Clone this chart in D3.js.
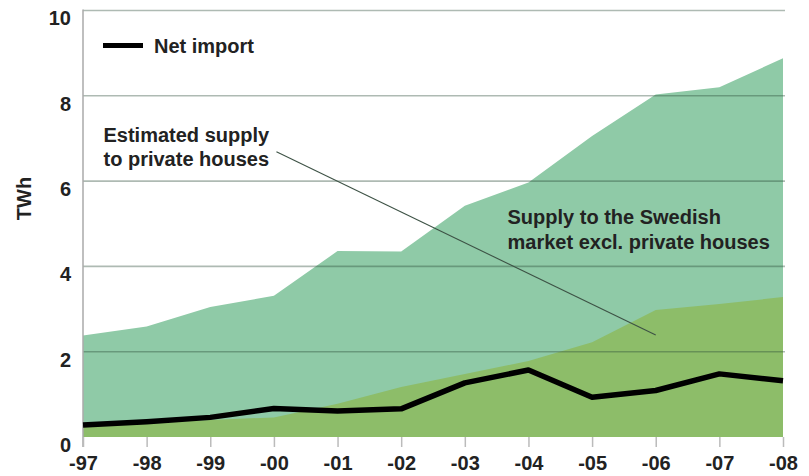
<!DOCTYPE html>
<html>
<head>
<meta charset="utf-8">
<script src="https://cdn.jsdelivr.net/npm/d3@7"></script>
<style>
  html, body { margin: 0; padding: 0; background: #fff; }
  svg { display: block; }
  text { font-family: "Liberation Sans", Arial, Helvetica, sans-serif; font-weight: bold; fill: #222; }
</style>
</head>
<body>
<svg id="chart" width="809" height="476"></svg>
<script>
// Years on the x axis
const years = ["-97", "-98", "-99", "-00", "-01", "-02", "-03", "-04", "-05", "-06", "-07", "-08"];
// Total supply (upper edge of the teal area), TWh
const totalSupply = [2.38, 2.59, 3.05, 3.31, 4.36, 4.35, 5.42, 5.97, 7.06, 8.03, 8.2, 8.88];
// Estimated supply to private houses (green area), TWh
const privateHouses = [0.3, 0.33, 0.4, 0.46, 0.78, 1.17, 1.48, 1.78, 2.22, 2.98, 3.12, 3.28];
// Net import, TWh
const netImport = [0.28, 0.36, 0.46, 0.67, 0.61, 0.66, 1.27, 1.57, 0.93, 1.09, 1.48, 1.32];
// Y axis ticks
const yTicks = [0, 2, 4, 6, 8, 10];

const svg = d3.select("#chart");
const plotLeft = 83, plotRight = 783, plotTop = 10.5, plotBottom = 437;
const fontSize = "20px";

const x = d3.scalePoint().domain(years).range([plotLeft, plotRight]);
const xi = d3.scaleLinear().domain([0, years.length - 1]).range([plotLeft, plotRight]);
const y = d3.scaleLinear().domain([0, 10]).range([plotBottom, plotTop]);

const rows = years.map((yr, i) => ({ yr, total: totalSupply[i], priv: privateHouses[i], net: netImport[i] }));

// Supply to the Swedish market (teal), drawn from zero to the total
svg.append("path")
  .datum(rows)
  .attr("fill", "#8fcaa7")
  .attr("d", d3.area().x(d => x(d.yr)).y0(y(0)).y1(d => y(d.total)));

// Supply to private houses (green)
svg.append("path")
  .datum(rows)
  .attr("fill", "#8dbd69")
  .attr("d", d3.area().x(d => x(d.yr)).y0(y(0)).y1(d => y(d.priv)));

// Horizontal gridlines
svg.append("g")
  .selectAll("line")
  .data(yTicks.filter(t => t > 0))
  .join("line")
  .attr("x1", plotLeft).attr("x2", plotRight + 2)
  .attr("y1", d => y(d)).attr("y2", d => y(d))
  .attr("stroke", "#2a4a38")
  .attr("stroke-opacity", 0.38)
  .attr("stroke-width", 1.6);

// Y axis line
svg.append("line")
  .attr("x1", plotLeft).attr("x2", plotLeft)
  .attr("y1", plotTop - 1).attr("y2", plotBottom + 10)
  .attr("stroke", "#aaa").attr("stroke-width", 1.5);

// Y axis: labels sit just below their gridlines
const yAxis = d3.axisLeft(y).tickValues(yTicks).tickSize(0).tickPadding(12);
const gy = svg.append("g").attr("transform", `translate(${plotLeft},0)`).call(yAxis);
gy.select(".domain").remove();
gy.selectAll("text")
  .attr("dy", "0.72em")
  .style("font-size", fontSize)
  .style("font-weight", "bold")
  .style("font-family", "'Liberation Sans', Arial, sans-serif")
  .attr("fill", "#222");

// X axis
const xAxis = d3.axisBottom(x).tickSize(10).tickPadding(9);
const gx = svg.append("g").attr("transform", `translate(0,${plotBottom})`).call(xAxis);
gx.select(".domain").remove();
gx.selectAll(".tick line").attr("stroke", "#bbb").attr("stroke-width", 1.5);
gx.selectAll("text")
  .style("font-size", fontSize)
  .style("font-weight", "bold")
  .style("font-family", "'Liberation Sans', Arial, sans-serif")
  .attr("fill", "#222");

// Y axis title
svg.append("text")
  .attr("transform", "translate(31,198.5) rotate(-90)")
  .attr("text-anchor", "middle")
  .style("font-size", fontSize)
  .text("TWh");

// Pointer from the private-houses label into the green area
svg.append("line")
  .attr("x1", xi(3.04)).attr("y1", y(6.69))
  .attr("x2", xi(9.0)).attr("y2", y(2.39))
  .attr("stroke", "#3d5245").attr("stroke-width", 1.1);

// Net import line
svg.append("path")
  .datum(rows)
  .attr("fill", "none")
  .attr("stroke", "#000")
  .attr("stroke-width", 5.5)
  .attr("stroke-linejoin", "round")
  .attr("d", d3.line().x(d => x(d.yr)).y(d => y(d.net)));

// Legend
svg.append("line")
  .attr("x1", 103).attr("x2", 143).attr("y1", 45.5).attr("y2", 45.5)
  .attr("stroke", "#000").attr("stroke-width", 5);
svg.append("text").attr("x", 154).attr("y", 53).style("font-size", fontSize).text("Net import");

// Annotations
const note1 = svg.append("text").attr("x", 103.5).attr("y", 142).style("font-size", fontSize);
note1.append("tspan").attr("x", 103.5).text("Estimated supply");
note1.append("tspan").attr("x", 103.5).attr("dy", 23.5).text("to private houses");

const note2 = svg.append("text").attr("x", 507.5).attr("y", 224).style("font-size", fontSize);
note2.append("tspan").attr("x", 507.5).text("Supply to the Swedish");
note2.append("tspan").attr("x", 507.5).attr("dy", 25).text("market excl. private houses");
</script>
</body>
</html>
